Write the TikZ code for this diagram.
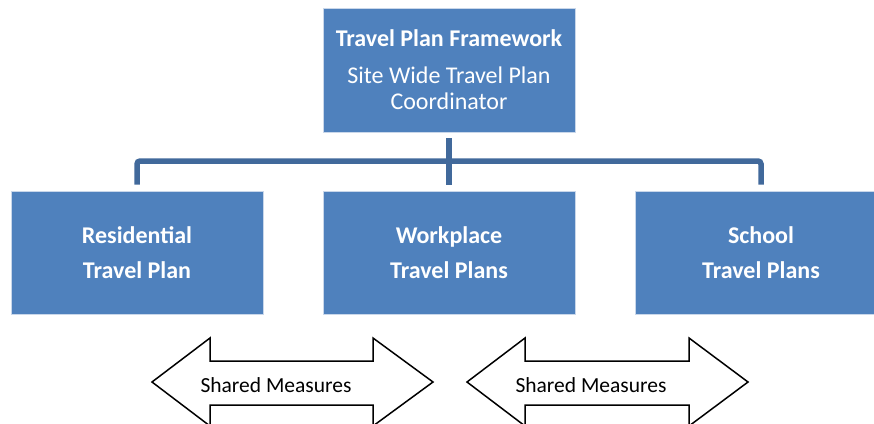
\documentclass[tikz,border=0pt]{standalone}
\usepackage{fontspec}
\setmainfont{Carlito}
\definecolor{boxblue}{HTML}{4F81BD}
\definecolor{connblue}{HTML}{41699B}
\definecolor{edge}{HTML}{C9D7EA}
\begin{document}
\begin{tikzpicture}[x=1pt,y=-1pt,
  bluebox/.style={rectangle, fill=boxblue, draw=edge, line width=0.8pt,
    minimum width=252pt, text=white, align=center, inner sep=0pt,
    font=\fontsize{24}{35}\selectfont\bfseries},
  conn/.style={draw=connblue, line width=5.5pt, rounded corners=3pt},
  dblarrow/.style={draw=black, line width=1.5pt, fill=white, line join=miter},
  smtext/.style={font=\fontsize{21.5}{24}\selectfont, text=black, anchor=base, inner sep=0pt}
]
\useasboundingbox (0,0) rectangle (874,423);
% boxes
\node[bluebox, minimum height=124pt, font=\fontsize{24}{26}\selectfont] (top) at (449,70)
  {\textbf{Travel Plan Framework}\\[11pt]Site Wide Travel Plan\\Coordinator};
\node[bluebox, minimum height=123pt] (res) at (137,252.5) {Residential\\Travel Plan};
\node[bluebox, minimum height=123pt] (work) at (449,252.5) {Workplace\\Travel Plans};
\node[bluebox, minimum height=123pt] (school) at (761,252.5) {School\\Travel Plans};
% connectors
\coordinate (bus) at (449,161);
\draw[conn] ([yshift=-6pt]top.south) -- ([yshift=6pt]work.north);
\draw[conn] ([yshift=6pt]res.north) |- (bus) -| ([yshift=6pt]school.north);
% shared measures arrows
\draw[dblarrow] (152,382) -- (210,338) -- (210,361) -- (373,361) -- (373,338) -- (433,382)
  -- (373,426) -- (373,405) -- (210,405) -- (210,426) -- cycle;
\node[smtext] (sm1) at (276,392) {Shared Measures};
\draw[dblarrow] (467,382) -- (525,338) -- (525,361) -- (689,361) -- (689,338) -- (748,382)
  -- (689,426) -- (689,405) -- (525,405) -- (525,426) -- cycle;
\node[smtext] (sm2) at (591,392) {Shared Measures};
\end{tikzpicture}
\end{document}
